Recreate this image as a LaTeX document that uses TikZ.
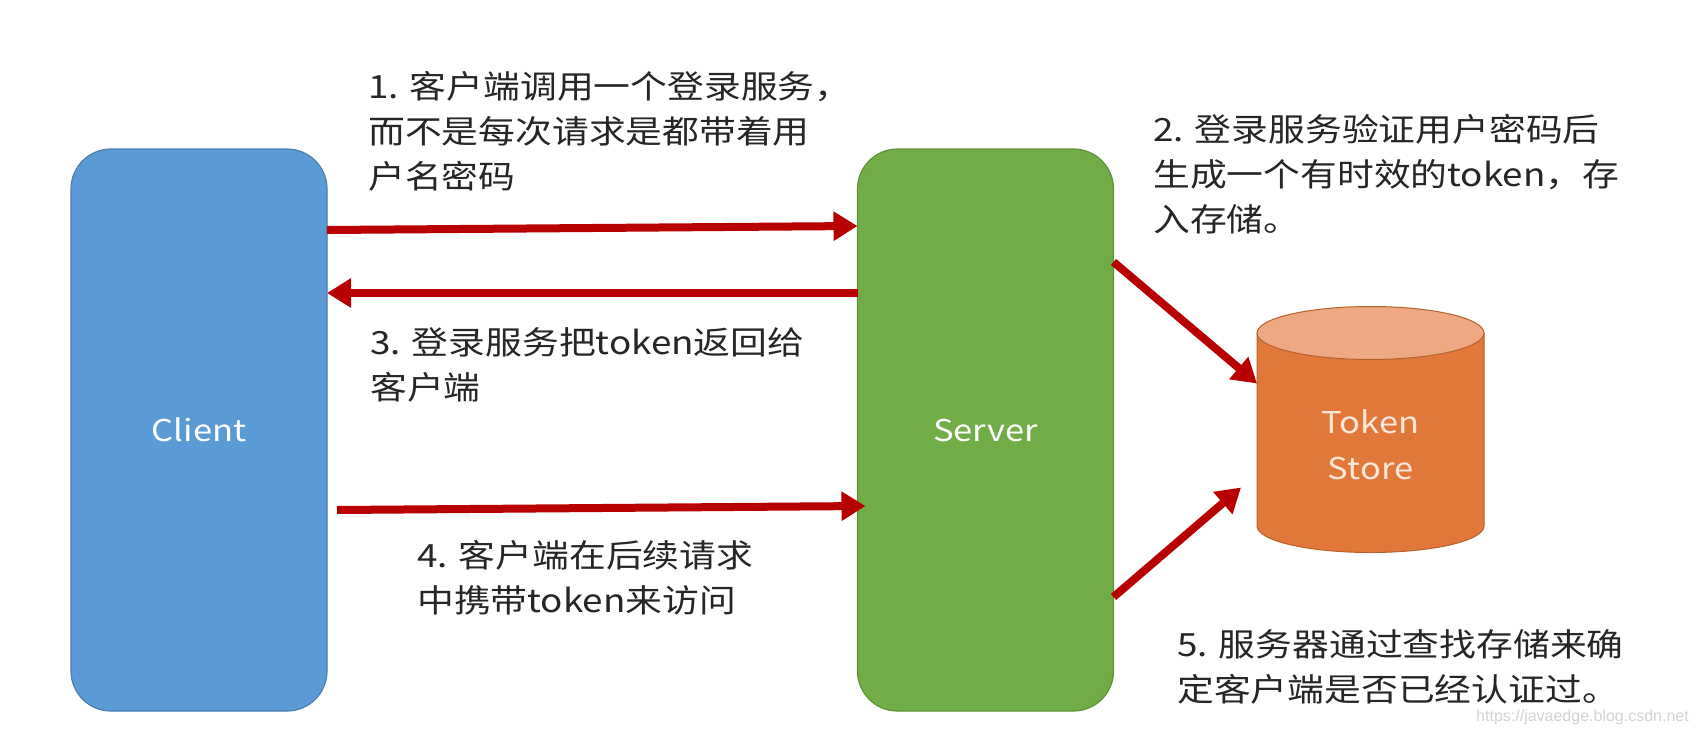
\documentclass[tikz,border=0pt]{standalone}
\usepackage{fontspec}
\setmainfont{Noto Sans CJK SC}[FakeStretch=1.15]
\newfontfamily\wmfont{Liberation Sans}
\usetikzlibrary{arrows.meta}
\definecolor{clientc}{HTML}{5B9BD5}
\definecolor{clientd}{HTML}{4A7EB0}
\definecolor{serverc}{HTML}{70AD47}
\definecolor{serverd}{HTML}{5E9238}
\definecolor{storec}{HTML}{E2773A}
\definecolor{storetop}{HTML}{EEA984}
\definecolor{stored}{HTML}{B5622C}
\definecolor{storetext}{HTML}{FCE8DA}
\definecolor{arrc}{HTML}{B80000}
\definecolor{textc}{HTML}{262626}
\definecolor{wmc}{HTML}{D4D4D4}
\begin{document}
\begin{tikzpicture}[x=1pt,y=-1pt,
  txt/.style={anchor=north west, inner sep=0pt, align=left, text=textc, font=\fontsize{32}{45}\selectfont},
  box/.style={rounded corners=40pt, minimum width=256pt, minimum height=562pt, outer sep=0pt, line width=1.2pt, text=white, font=\fontsize{30}{40}\selectfont},
  arr/.style={draw=arrc, line width=8pt, -{Triangle[length=24pt,width=28pt]}},
]
\useasboundingbox (0,0) rectangle (1698,734);
\fill[white] (0,0) rectangle (1698,734);

% boxes
\node[box, fill=clientc, draw=clientd] (client) at (199,430) {Client};
\node[box, fill=serverc, draw=serverd] (server) at (985.5,430) {Server};

% cylinder
\draw[stored, fill=storec, line width=1pt] (1257,333) -- (1257,526)
  arc[start angle=180, end angle=0, x radius=113.5, y radius=26.5] -- (1484,333) -- cycle;
\draw[stored, fill=storetop, line width=1pt] (1370.5,333) ellipse[x radius=113.5, y radius=26.5];
\node[inner sep=0pt, outer sep=0pt, minimum width=227pt, minimum height=247pt] (store) at (1370.5,429.5) {};
\node[align=center, inner sep=0pt, text=storetext, font=\fontsize{30}{46}\selectfont] (storelbl) at (1370.5,445) {Token\\Store};

% texts
\node[txt] (t1) at (368,71) {1. 客户端调用一个登录服务，\\而不是每次请求是都带着用\\户名密码};
\node[txt] (t2) at (1153,114) {2. 登录服务验证用户密码后\\生成一个有时效的token，存\\入存储。};
\node[txt] (t3) at (370,327) {3. 登录服务把token返回给\\客户端};
\node[txt] (t4) at (417,540) {4. 客户端在后续请求\\中携带token来访问};
\node[txt] (t5) at (1177,629) {5. 服务器通过查找存储来确\\定客户端是否已经认证过。};

% arrows
\draw[arr] ([yshift=-81pt]client.north east) -- ([yshift=-77pt]server.north west);
\draw[arr] ([yshift=-144pt]server.north west) -- ([yshift=-144pt]client.north east);
\draw[arr] ([xshift=10pt,yshift=-361pt]client.north east) -- ([xshift=8pt,yshift=-357pt]server.north west);
\draw[arr] ([yshift=-113pt]server.north east) -- ([yshift=46pt]store.west);
\draw[arr] ([yshift=-448pt]server.north east) -- ([xshift=-16pt,yshift=-58pt]store.west);

% watermark
\node[anchor=east, inner sep=0pt, text=wmc, font=\wmfont\fontsize{16}{16}\selectfont] (wm) at (1689,717) {https://javaedge.blog.csdn.net};
\end{tikzpicture}
\end{document}
